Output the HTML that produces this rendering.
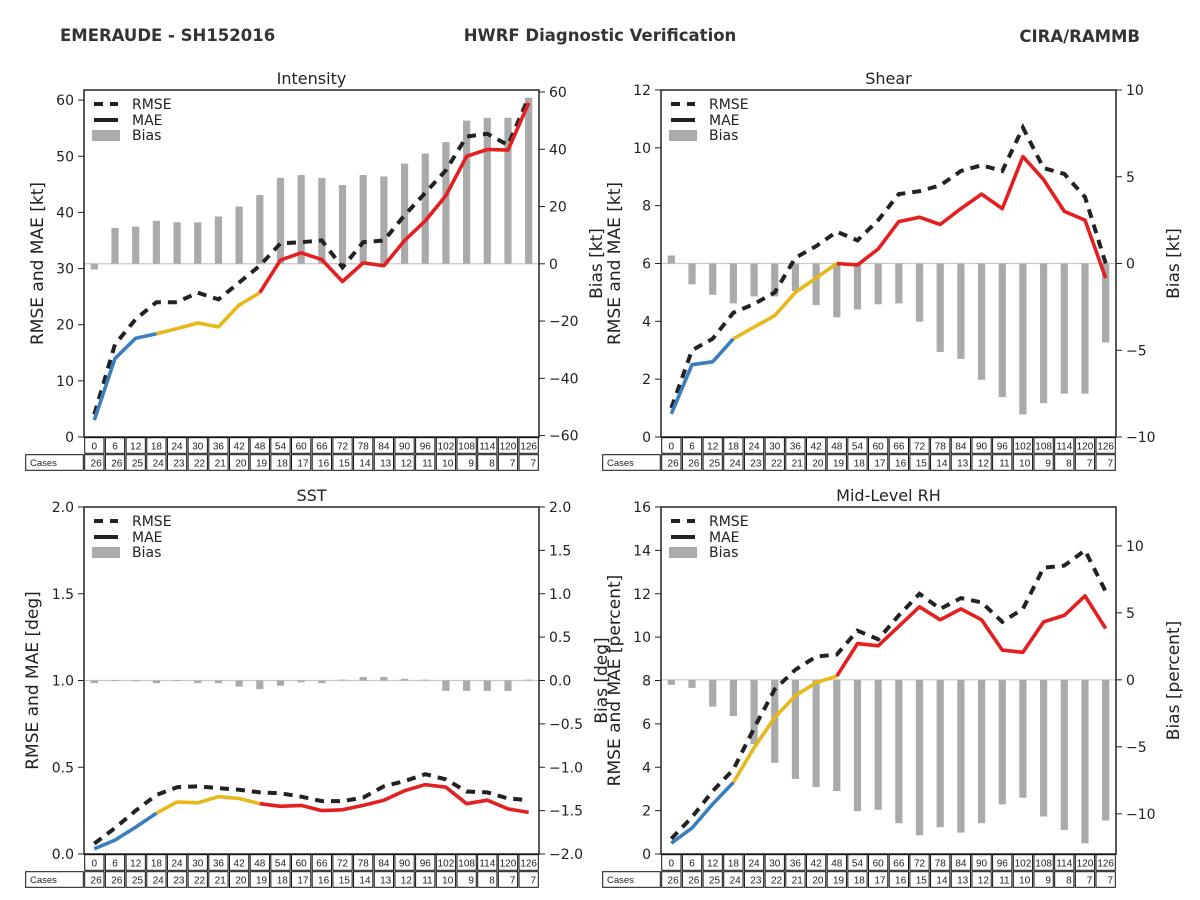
<!DOCTYPE html>
<html><head><meta charset="utf-8">
<style>
html,body{margin:0;padding:0;background:#fff;}
svg{display:block;font-family:"DejaVu Sans","Liberation Sans",sans-serif;}
</style></head>
<body>
<svg id="fig" width="1200" height="900" viewBox="0 0 1200 900" xmlns="http://www.w3.org/2000/svg">
<rect x="0" y="0" width="1200" height="900" fill="#fff"/>
<text x="60" y="41" font-size="16.5" font-weight="bold" fill="#333">EMERAUDE - SH152016</text>
<text x="600" y="41" font-size="16.5" font-weight="bold" fill="#333" text-anchor="middle">HWRF Diagnostic Verification</text>
<text x="1140" y="42" font-size="16.5" font-weight="bold" fill="#333" text-anchor="end">CIRA/RAMMB</text>
</svg>
<script>
const leadTimes = [0,6,12,18,24,30,36,42,48,54,60,66,72,78,84,90,96,102,108,114,120,126];
const cases = [26,26,25,24,23,22,21,20,19,18,17,16,15,14,13,12,11,10,9,8,7,7];

const intRmse = [4,16.5,21,24,24,25.7,24.5,27.5,30.5,34.5,34.7,35,30.2,34.7,35,39.5,43.5,47.5,53.5,54,52,60.5];
const intMae = [3,14,17.6,18.4,19.3,20.3,19.6,23.5,25.7,31.5,32.8,31.6,27.7,31,30.5,35,38.5,43,50,51.2,51.1,59.5];
const intBias = [-2,12.5,13,15,14.5,14.5,16.5,20,24,30,31,30,27.5,31,30.5,35,38.5,42.5,50,51,51,58];
const intLeftTicks = [0,10,20,30,40,50,60];
const intRightTicks = [-60,-40,-20,0,20,40,60];

const shrRmse = [1.0,3.0,3.4,4.3,4.6,5.0,6.2,6.6,7.1,6.8,7.5,8.4,8.5,8.7,9.2,9.4,9.2,10.7,9.3,9.1,8.3,6.0];
const shrMae = [0.8,2.5,2.6,3.4,3.8,4.2,5.0,5.5,6.0,5.95,6.5,7.45,7.6,7.35,7.9,8.4,7.9,9.7,8.9,7.8,7.5,5.5];
const shrBias = [0.46,-1.2,-1.8,-2.3,-1.9,-1.9,-1.6,-2.4,-3.1,-2.65,-2.35,-2.3,-3.35,-5.1,-5.5,-6.7,-7.7,-8.7,-8.05,-7.5,-7.5,-4.55];
const shrLeftTicks = [0,2,4,6,8,10,12];
const shrRightTicks = [-10,-5,0,5,10];

const sstRmse = [0.06,0.15,0.25,0.34,0.385,0.39,0.38,0.37,0.355,0.35,0.33,0.305,0.305,0.325,0.39,0.42,0.46,0.43,0.36,0.355,0.32,0.31];
const sstMae = [0.03,0.08,0.155,0.235,0.30,0.295,0.33,0.32,0.29,0.275,0.28,0.25,0.255,0.28,0.31,0.365,0.40,0.385,0.29,0.31,0.26,0.24];
const sstBias = [-0.03,0.005,-0.01,-0.03,0.005,-0.03,-0.03,-0.07,-0.1,-0.06,-0.02,-0.03,0.01,0.04,0.04,0.02,0.01,-0.12,-0.12,-0.12,-0.12,0.01];
const sstLeftTicks = [0,0.5,1,1.5,2];
const sstRightTicks = [-2,-1.5,-1,-0.5,0,0.5,1,1.5,2];

const rhRmse = [0.7,1.7,2.9,3.9,5.8,7.6,8.5,9.1,9.2,10.3,9.9,11.0,12.0,11.3,11.8,11.6,10.7,11.3,13.2,13.3,14.0,12.1];
const rhMae = [0.5,1.2,2.3,3.3,4.9,6.3,7.3,7.9,8.2,9.7,9.6,10.5,11.4,10.8,11.3,10.8,9.4,9.3,10.7,11.0,11.9,10.4];
const rhBias = [-0.37,-0.6,-2.0,-2.7,-4.8,-6.2,-7.4,-8.0,-8.3,-9.8,-9.7,-10.7,-11.6,-11.0,-11.4,-10.7,-9.3,-8.8,-10.2,-11.2,-12.2,-10.5];
const rhLeftTicks = [0,2,4,6,8,10,12,14,16];
const rhRightTicks = [-10,-5,0,5,10];

const NS = 'http://www.w3.org/2000/svg';
const svg = document.getElementById('fig');
function mk(tag, attrs, parent, txt){
  const e = document.createElementNS(NS, tag);
  for (const k in attrs) e.setAttribute(k, attrs[k]);
  if (txt !== undefined) e.textContent = txt;
  (parent || svg).appendChild(e);
  return e;
}
function fmt(v, dec){ const s = v.toFixed(dec); return s.replace('-', '\u2212'); }

function panel(cfg){
  const g = mk('g', {});
  
  
  const L = cfg.x, T = cfg.y, W = 455, H = 347, R = L + W, B = T + H;
  const n = leadTimes.length, cw = W / n;
  const xs = i => L + (i + 0.5) * cw;
  const yl = v => B - (v - cfg.lmin) / (cfg.lmax - cfg.lmin) * H;
  const yr = v => B - (v - cfg.rmin) / (cfg.rmax - cfg.rmin) * H;

  const t = mk('text', {x: L + W/2, y: T - 6, 'font-size': 16, 'text-anchor': 'middle', fill: '#222'}, g, cfg.title);
  
  

  const z = mk('line', {x1: L, x2: R, y1: yr(0), y2: yr(0), stroke: '#c8c8c8', 'stroke-width': 1.2}, g);
  
  

  cfg.bias.forEach((v, i) => {
    const y0 = yr(0), y1 = yr(v);
    const b = mk('rect', {x: xs(i) - 3.6, y: Math.min(y0, y1), width: 7.2, height: Math.max(0.8, Math.abs(y1 - y0)), fill: '#aaaaaa'}, g);
    
    
  });

  const rp = cfg.rmse.map((v, i) => xs(i).toFixed(1) + ',' + yl(v).toFixed(1)).join(' ');
  const rl = mk('polyline', {points: rp, fill: 'none', stroke: '#222', 'stroke-width': 4, 'stroke-dasharray': '9,7'}, g);
  
  

  const segs = [[0, 3, '#3a7fbd', 'blue'], [3, 8, '#e8b71a', 'yellow'], [8, n - 1, '#e3201f', 'red']];
  segs.forEach(s => {
    const pts = [];
    for (let i = s[0]; i <= s[1]; i++) pts.push(xs(i).toFixed(1) + ',' + yl(cfg.mae[i]).toFixed(1));
    const m = mk('polyline', {points: pts.join(' '), fill: 'none', stroke: s[2], 'stroke-width': 3.6, 'stroke-linejoin': 'round'}, g);
    
    
  });

  const fr = mk('rect', {x: L, y: T, width: W, height: H, fill: 'none', stroke: '#222', 'stroke-width': 1.5}, g);
  
  

  cfg.lticks.forEach(v => {
    const y = yl(v);
    mk('line', {x1: L - 6, x2: L, y1: y, y2: y, stroke: '#222', 'stroke-width': 1}, g);
    const tl = mk('text', {x: L - 10, y: y + 5, 'font-size': 14, 'text-anchor': 'end', fill: '#222'}, g, fmt(v, cfg.dec));
    
    
  });
  cfg.rticks.forEach(v => {
    const y = yr(v);
    mk('line', {x1: R, x2: R + 6, y1: y, y2: y, stroke: '#222', 'stroke-width': 1}, g);
    const tr = mk('text', {x: R + 10, y: y + 5, 'font-size': 14, 'text-anchor': 'start', fill: '#222'}, g, fmt(v, cfg.rdec));
    
    
  });

  const ly = mk('text', {x: 0, y: 0, 'font-size': 17, 'text-anchor': 'middle', fill: '#222', transform: `translate(${cfg.lyx},${T + H/2}) rotate(-90)`}, g, cfg.ylabel);
  
  
  const ry = mk('text', {x: 0, y: 0, 'font-size': 17, 'text-anchor': 'middle', fill: '#222', transform: `translate(${cfg.ryx},${T + H/2}) rotate(-90)`}, g, cfg.rlabel);
  
  

  const lg = mk('g', {}, g);
  
  
  mk('line', {x1: L + 10, x2: L + 34, y1: T + 14, y2: T + 14, stroke: '#222', 'stroke-width': 4, 'stroke-dasharray': '9,7'}, lg);
  mk('text', {x: L + 48, y: T + 19, 'font-size': 14, fill: '#222'}, lg, 'RMSE');
  mk('line', {x1: L + 10, x2: L + 34, y1: T + 30, y2: T + 30, stroke: '#222', 'stroke-width': 4}, lg);
  mk('text', {x: L + 48, y: T + 35, 'font-size': 14, fill: '#222'}, lg, 'MAE');
  mk('rect', {x: L + 8, y: T + 40, width: 28, height: 11, fill: '#aaaaaa'}, lg);
  mk('text', {x: L + 48, y: T + 50, 'font-size': 14, fill: '#222'}, lg, 'Bias');

  const tb = mk('g', {}, g);
  
  
  const rh = 17;
  const tf = '"Liberation Sans Narrow","Liberation Sans",sans-serif';
  leadTimes.forEach((lt, i) => {
    const cx = L + i * cw;
    mk('rect', {x: cx + 0.7, y: B + 0.7, width: cw - 1.4, height: rh - 1.4, fill: 'none', stroke: '#111', 'stroke-width': 1}, tb);
    mk('text', {x: cx + cw/2, y: B + 12.5, 'font-size': 10, 'font-family': tf, 'text-anchor': 'middle', fill: '#222'}, tb, String(lt));
    mk('rect', {x: cx + 0.7, y: B + rh + 0.7, width: cw - 1.4, height: rh - 1.4, fill: 'none', stroke: '#111', 'stroke-width': 1}, tb);
    mk('text', {x: cx + cw - 3, y: B + rh + 12.5, 'font-size': 10, 'font-family': tf, 'text-anchor': 'end', fill: '#222'}, tb, String(cases[i]));
  });
  mk('rect', {x: L - 59 + 0.7, y: B + rh + 0.7, width: 59 - 1.4, height: rh - 1.4, fill: 'none', stroke: '#111', 'stroke-width': 1}, tb);
  mk('text', {x: L - 54, y: B + rh + 12, 'font-size': 9.5, 'font-family': tf, fill: '#222'}, tb, 'Cases');
}

panel({name:'intensity', title:'Intensity', x:84, y:90, lmin:0, lmax:61.8, rmin:-60.5, rmax:60.7,
  rmse:intRmse, mae:intMae, bias:intBias, lticks:intLeftTicks, rticks:intRightTicks, dec:0, rdec:0,
  ylabel:'RMSE and MAE [kt]', rlabel:'Bias [kt]', lyx:43, ryx:602});
panel({name:'shear', title:'Shear', x:661, y:90, lmin:0, lmax:12, rmin:-10, rmax:10,
  rmse:shrRmse, mae:shrMae, bias:shrBias, lticks:shrLeftTicks, rticks:shrRightTicks, dec:0, rdec:0,
  ylabel:'RMSE and MAE [kt]', rlabel:'Bias [kt]', lyx:620, ryx:1179});
panel({name:'sst', title:'SST', x:84, y:507, lmin:0, lmax:2, rmin:-2, rmax:2,
  rmse:sstRmse, mae:sstMae, bias:sstBias, lticks:sstLeftTicks, rticks:sstRightTicks, dec:1, rdec:1,
  ylabel:'RMSE and MAE [deg]', rlabel:'Bias [deg]', lyx:38, ryx:607});
panel({name:'mid-level-rh', title:'Mid-Level RH', x:661, y:507, lmin:0, lmax:16, rmin:-13, rmax:12.9,
  rmse:rhRmse, mae:rhMae, bias:rhBias, lticks:rhLeftTicks, rticks:rhRightTicks, dec:0, rdec:0,
  ylabel:'RMSE and MAE [percent]', rlabel:'Bias [percent]', lyx:620, ryx:1179});
</script>
</body></html>
